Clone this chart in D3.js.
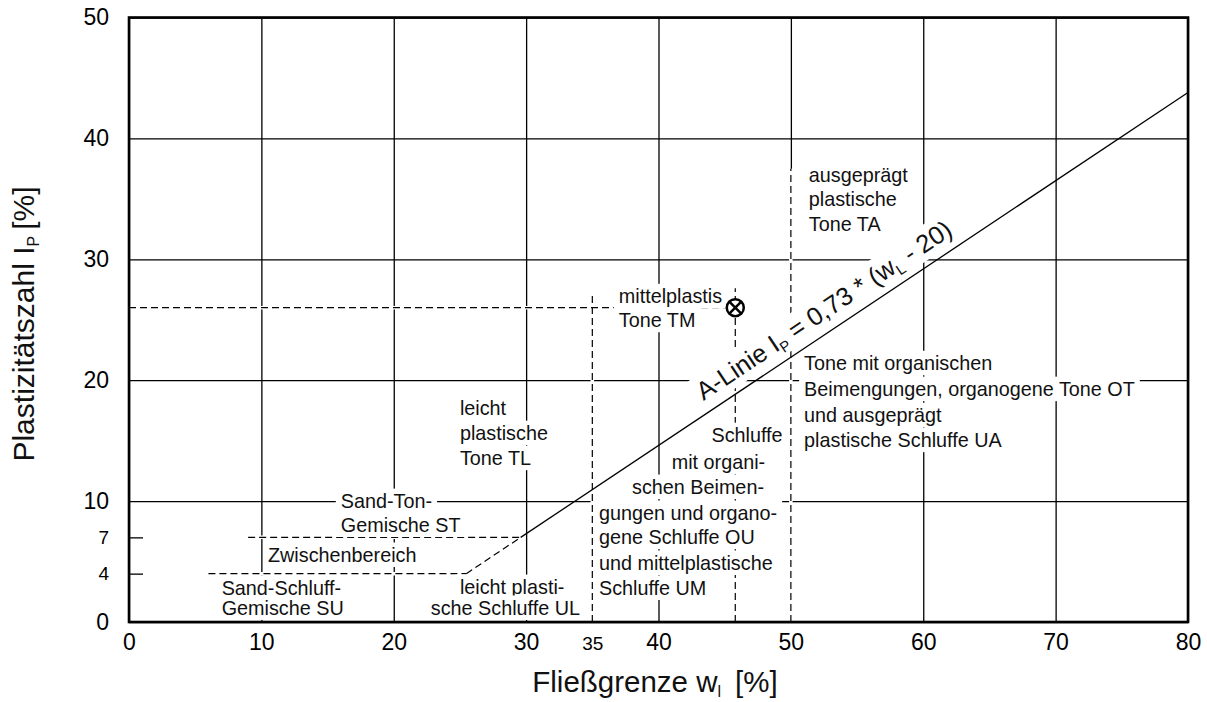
<!DOCTYPE html>
<html>
<head>
<meta charset="utf-8">
<script src="https://cdn.jsdelivr.net/npm/d3@7/dist/d3.min.js"></script>
<style>
body { margin: 0; background: #fff; }
svg { display: block; font-family: "Liberation Sans", Arial, Helvetica, sans-serif; }
</style>
</head>
<body>
<svg id="chart" width="1207" height="702"></svg>
<script>
// ticks on both axes
var xTicks = [0, 10, 20, 30, 40, 50, 60, 70, 80];
var xExtraTicks = [35];
var yTicks = [0, 10, 20, 30, 40, 50];
var yMinorTicks = [4, 7];

// A-Linie: I_P = 0.73 * (w_L - 20)
var aSlope = 0.73;
var aZero = 20;
var aEnd = 80;
var aSolidFrom = 7;   // below I_P = 7 the line is dashed
var aDashedFrom = 4;

// dashed zone boundaries
var hBounds = [[6, 4], [9, 7]];          // start wL, IP  (run to the A-line)
var vBounds = [[35, 27], [50, 37.5]];    // wL, top IP

// the tested sample
var sampleWL = 45.8;
var sampleIP = 26;
var sampleGuideTop = 27.6;

// zone labels, one entry per text line
var zoneLines = [
  {t: "ausgeprägt", wl: 51.35, ip: 37.0},
  {t: "plastische", wl: 51.35, ip: 35.0},
  {t: "Tone TA", wl: 51.35, ip: 32.9},
  {t: "mittelplastis", wl: 37.0, ip: 26.94},
  {t: "Tone TM", wl: 37.0, ip: 24.96},
  {t: "Tone mit organischen", wl: 51.0, ip: 21.4},
  {t: "Beimengungen, organogene Tone OT", wl: 51.0, ip: 19.26},
  {t: "und ausgeprägt", wl: 51.0, ip: 17.1},
  {t: "plastische Schluffe UA", wl: 51.0, ip: 15.04},
  {t: "leicht", wl: 25.0, ip: 17.69},
  {t: "plastische", wl: 25.0, ip: 15.62},
  {t: "Tone TL", wl: 25.0, ip: 13.55},
  {t: "Schluffe", wl: 44.0, ip: 15.45},
  {t: "mit organi-", wl: 41.0, ip: 13.22},
  {t: "schen Beimen-", wl: 38.0, ip: 11.16},
  {t: "gungen und organo-", wl: 35.5, ip: 9.01},
  {t: "gene Schluffe OU", wl: 35.5, ip: 7.02},
  {t: "und mittelplastische", wl: 35.5, ip: 4.88},
  {t: "Schluffe UM", wl: 35.5, ip: 2.81},
  {t: "Sand-Ton-", wl: 16.0, ip: 10.0},
  {t: "Gemische ST", wl: 16.0, ip: 8.02},
  {t: "Zwischenbereich", wl: 10.5, ip: 5.54},
  {t: "Sand-Schluff-", wl: 7.0, ip: 2.81},
  {t: "Gemische SU", wl: 7.0, ip: 1.16},
  {t: "leicht plasti-", wl: 25.0, ip: 2.89},
  {t: "sche Schluffe UL", wl: 22.8, ip: 1.16}
];

var svg = d3.select("#chart");
var x = d3.scaleLinear().domain([0, 80]).range([129, 1188]);
var y = d3.scaleLinear().domain([0, 50]).range([622, 17.5]);
var plotH = y(0) - y(50);
var plotW = x(80) - x(0);

function aLine(ip) { return aZero + ip / aSlope; }

// grid
svg.append("g")
    .attr("transform", "translate(0," + y(0) + ")")
    .call(d3.axisBottom(x).tickValues(xTicks).tickSize(-plotH).tickFormat(""))
    .call(g => g.select(".domain").remove())
    .selectAll("line").attr("stroke", "#000").attr("stroke-width", 1.3);
svg.append("g")
    .attr("transform", "translate(" + x(0) + ",0)")
    .call(d3.axisLeft(y).tickValues(yTicks).tickSize(-plotW).tickFormat(""))
    .call(g => g.select(".domain").remove())
    .selectAll("line").attr("stroke", "#000").attr("stroke-width", 1.3);

// tick labels
var xLab = svg.append("g")
    .attr("transform", "translate(0," + y(0) + ")")
    .call(d3.axisBottom(x).tickValues(xTicks).tickSize(0).tickPadding(12));
xLab.select(".domain").remove();
xLab.selectAll("text").attr("font-size", 23).attr("fill", "#000").attr("font-family", null);

var xLab2 = svg.append("g")
    .attr("transform", "translate(0," + y(0) + ")")
    .call(d3.axisBottom(x).tickValues(xExtraTicks).tickSize(0).tickPadding(15));
xLab2.select(".domain").remove();
xLab2.selectAll("text").attr("font-size", 19).attr("fill", "#000").attr("font-family", null);

var yLab = svg.append("g")
    .attr("transform", "translate(" + x(0) + ",0)")
    .call(d3.axisLeft(y).tickValues(yTicks).tickSize(0).tickPadding(20));
yLab.select(".domain").remove();
yLab.selectAll("text").attr("font-size", 23).attr("fill", "#000").attr("font-family", null);

var yLab2 = svg.append("g")
    .attr("transform", "translate(" + x(0) + ",0)")
    .call(d3.axisLeft(y).tickValues(yMinorTicks).tickSize(-14).tickPadding(20));
yLab2.select(".domain").remove();
yLab2.selectAll("line").attr("stroke", "#000").attr("stroke-width", 1.3);
yLab2.selectAll("text").attr("font-size", 19).attr("fill", "#000").attr("font-family", null);

// dashed boundaries (white underlay hides the grid below them)
var segs = [];
hBounds.forEach(d => segs.push([d[0], d[1], aLine(d[1]), d[1]]));
segs.push([aLine(aDashedFrom), aDashedFrom, aLine(aSolidFrom), aSolidFrom]);
vBounds.forEach(d => segs.push([d[0], 0, d[0], d[1]]));
segs.push([0, sampleIP, sampleWL, sampleIP]);
segs.push([sampleWL, 0, sampleWL, sampleGuideTop]);

var dashG = svg.append("g");
dashG.selectAll("line.under").data(segs).enter().append("line")
    .attr("x1", d => x(d[0])).attr("y1", d => y(d[1]))
    .attr("x2", d => x(d[2])).attr("y2", d => y(d[3]))
    .attr("stroke", "#fff").attr("stroke-width", 3.5);
dashG.selectAll("line.dash").data(segs).enter().append("line")
    .attr("x1", d => x(d[0])).attr("y1", d => y(d[1]))
    .attr("x2", d => x(d[2])).attr("y2", d => y(d[3]))
    .attr("stroke", "#000").attr("stroke-width", 1.2)
    .attr("stroke-dasharray", "7,4");

// frame
svg.append("rect")
    .attr("x", x(0)).attr("y", y(50))
    .attr("width", plotW).attr("height", plotH)
    .attr("fill", "none").attr("stroke", "#000").attr("stroke-width", 2.6);

// zone labels with white boxes
var zoneG = svg.append("g");
zoneLines.forEach(function(d) {
    var g = zoneG.append("g").attr("transform", "translate(" + x(d.wl) + "," + y(d.ip) + ")");
    var r = g.append("rect").attr("fill", "#fff");
    var t = g.append("text")
        .attr("dominant-baseline", "central")
        .attr("font-size", 19.8)
        .attr("fill", "#111")
        .text(d.t);
    var w = t.node().getComputedTextLength();
    r.attr("x", -5).attr("y", -12.5).attr("width", w + 10).attr("height", 24.5);
});

// A-line label
var p1 = [x(aLine(aSolidFrom)), y(aSolidFrom)];
var p2 = [x(aEnd), y(aSlope * (aEnd - aZero))];
var angle = Math.atan2(p2[1] - p1[1], p2[0] - p1[0]) * 180 / Math.PI;
var labW = 43.9;
var lab = svg.append("g")
    .attr("transform", "translate(" + x(labW) + "," + y(aSlope * (labW - aZero)) + ") rotate(" + angle + ")");
var labRect = lab.append("rect").attr("fill", "#fff");
var labText = lab.append("text").attr("x", 0).attr("y", -12).attr("font-size", 25.5).attr("fill", "#111");
labText.append("tspan").text("A-Linie I");
labText.append("tspan").attr("font-size", 15).attr("dy", 5).text("P");
labText.append("tspan").attr("dy", -5).text(" = 0,73 * (w");
labText.append("tspan").attr("font-size", 15).attr("dy", 5).text("L");
labText.append("tspan").attr("dy", -5).text(" - 20)");
var bb = labText.node().getBBox();
labRect.attr("x", bb.x - 3).attr("y", bb.y - 2).attr("width", bb.width + 6).attr("height", bb.height + 1);

// A-line solid part
svg.append("line")
    .attr("x1", p1[0]).attr("y1", p1[1])
    .attr("x2", p2[0]).attr("y2", p2[1])
    .attr("stroke", "#000").attr("stroke-width", 1.3);

// sample marker
var mk = svg.append("g").attr("transform", "translate(" + x(sampleWL) + "," + y(sampleIP) + ")");
mk.append("circle").attr("r", 8.5).attr("fill", "#fff").attr("stroke", "#000").attr("stroke-width", 2.5);
mk.append("path").attr("d", "M-6.5,-6.5L6.5,6.5M6.5,-6.5L-6.5,6.5").attr("stroke", "#000").attr("stroke-width", 2.5);

// axis titles
var xt = svg.append("text")
    .attr("x", 655).attr("y", 692)
    .attr("text-anchor", "middle").attr("font-size", 29.5).attr("fill", "#111");
xt.append("tspan").text("Fließgrenze w");
xt.append("tspan").attr("font-size", 16).attr("dy", 5).text("l");
xt.append("tspan").attr("dy", -5).attr("dx", 14).text("[%]");

var yt = svg.append("text")
    .attr("transform", "translate(34,324) rotate(-90)")
    .attr("text-anchor", "middle").attr("font-size", 30).attr("fill", "#111");
yt.append("tspan").text("Plastizitätszahl I");
yt.append("tspan").attr("font-size", 16).attr("dy", 5).text("P");
yt.append("tspan").attr("dy", -5).attr("dx", 6).text("[%]");
</script>
</body>
</html>
